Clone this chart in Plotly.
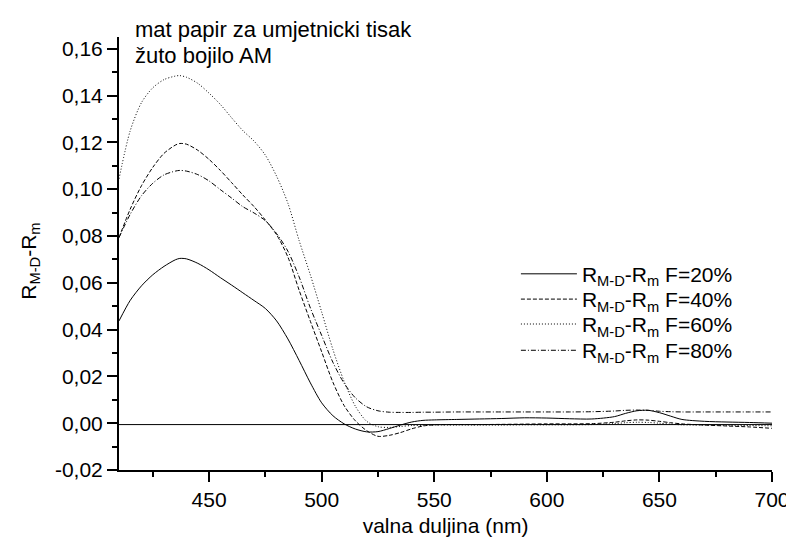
import plotly.graph_objects as go

# ---------------- data ----------------
wl = [410, 415, 420, 425, 430, 435, 437, 440, 445, 450, 455, 460, 465, 470, 475,
      480, 485, 490, 495, 500, 505, 510, 515, 520, 525, 530, 535, 540, 545, 550,
      560, 570, 580, 590, 600, 610, 620, 630, 635, 640, 645, 650, 655, 660, 670,
      680, 690, 700]

f20 = [0.0437, 0.0525, 0.0587, 0.0634, 0.0670, 0.0698, 0.0704, 0.0702, 0.0683, 0.0655,
       0.0622, 0.0590, 0.0557, 0.0524, 0.0490, 0.0437, 0.0360, 0.0268, 0.0172, 0.0087,
       0.0032, -0.0003, -0.0025, -0.0037, -0.0036, -0.0023, -0.0008, 0.0005, 0.0012, 0.0014,
       0.0016, 0.0018, 0.0020, 0.0023, 0.0022, 0.0019, 0.0018, 0.0028, 0.0042, 0.0053,
       0.0055, 0.0045, 0.0030, 0.0016, 0.0008, 0.0005, 0.0003, 0.0000]

f40 = [0.0793, 0.0915, 0.1015, 0.1093, 0.1153, 0.1188, 0.1195, 0.1192, 0.1166, 0.1127,
       0.1080, 0.1028, 0.0975, 0.0925, 0.0868, 0.0805, 0.0710, 0.0568, 0.0435, 0.0305,
       0.0175, 0.0075, 0.0010, -0.0032, -0.0056, -0.0052, -0.0040, -0.0024, -0.0012, -0.0007,
       -0.0006, -0.0006, -0.0005, -0.0004, -0.0003, -0.0003, -0.0002, 0.0004, 0.0010, 0.0014,
       0.0013, 0.0008, 0.0002, -0.0003, -0.0008, -0.0012, -0.0016, -0.0022]

f60 = [0.1044, 0.1250, 0.1370, 0.1433, 0.1468, 0.1483, 0.1485, 0.1478, 0.1452, 0.1410,
       0.1362, 0.1305, 0.1250, 0.1205, 0.1145, 0.1055, 0.0940, 0.0780, 0.0633, 0.0475,
       0.0315, 0.0178, 0.0072, 0.0008, -0.0015, -0.0018, -0.0014, -0.0010, -0.0009, -0.0008,
       -0.0008, -0.0008, -0.0008, -0.0007, -0.0007, -0.0007, -0.0006, -0.0002, 0.0002, 0.0004,
       0.0003, 0.0000, -0.0004, -0.0007, -0.0008, -0.0009, -0.0010, -0.0011]

f80 = [0.0793, 0.0893, 0.0972, 0.1025, 0.1061, 0.1077, 0.1080, 0.1077, 0.1062, 0.1035,
       0.0998, 0.0962, 0.0925, 0.0898, 0.0865, 0.0810, 0.0735, 0.0625, 0.0492, 0.0375,
       0.0260, 0.0170, 0.0108, 0.0070, 0.0053, 0.0047, 0.0046, 0.0046, 0.0047, 0.0047,
       0.0048, 0.0048, 0.0048, 0.0048, 0.0048, 0.0048, 0.0049, 0.0052, 0.0055, 0.0056,
       0.0055, 0.0051, 0.0049, 0.0048, 0.0048, 0.0048, 0.0048, 0.0048]

baseline_wl = [410, 700]
baseline_val = [-0.0006, -0.0006]

series_names = ["R<sub>M-D</sub>-R<sub>m</sub> F=20%",
                "R<sub>M-D</sub>-R<sub>m</sub> F=40%",
                "R<sub>M-D</sub>-R<sub>m</sub> F=60%",
                "R<sub>M-D</sub>-R<sub>m</sub> F=80%"]
series_vals = [f20, f40, f60, f80]
series_dash = ["solid", "4px,2px", "1px,2px", "5px,2px,1px,2px"]

x_tickvals = [450, 500, 550, 600, 650, 700]
x_ticktext = ["450", "500", "550", "600", "650", "700"]
x_minor = [425, 475, 525, 575, 625, 675]
y_tickvals = [-0.02, 0.0, 0.02, 0.04, 0.06, 0.08, 0.10, 0.12, 0.14, 0.16]
y_ticktext = ["-0,02", "0,00", "0,02", "0,04", "0,06", "0,08", "0,10", "0,12", "0,14", "0,16"]
y_minor = [-0.01, 0.01, 0.03, 0.05, 0.07, 0.09, 0.11, 0.13, 0.15]

title_lines = ["mat papir za umjetnicki tisak", "žuto bojilo AM"]
x_title = "valna duljina (nm)"
y_title = "R<sub>M-D</sub>-R<sub>m</sub>"

FONT = "Liberation Sans, Arial, sans-serif"
L, R, T, B = 111, 20, 29, 69
W, H = 794, 538
PW, PH = W - L - R, H - T - B


def px_x(x):
    return (x - L) / PW


def px_y(y):
    return (H - B - y) / PH


fig = go.Figure()
fig.add_trace(go.Scatter(x=baseline_wl, y=baseline_val, mode="lines",
                         line=dict(color="black", width=1), showlegend=False,
                         hoverinfo="skip"))
legend_ids = ["legend", "legend2", "legend3", "legend4"]
for name, vals, dash, lid in zip(series_names, series_vals, series_dash, legend_ids):
    fig.add_trace(go.Scatter(x=wl, y=vals, mode="lines", name=name, legend=lid,
                             line=dict(color="black", width=1, dash=dash,
                                       shape="spline", smoothing=0.8)))

axis_common = dict(showline=True, linecolor="black", linewidth=2, ticks="outside",
                   ticklen=10, tickwidth=2, tickcolor="black", showgrid=False,
                   zeroline=False, tickfont=dict(family=FONT, size=21, color="black"))

legend_rows = [270, 295.7, 321, 347.7]
legend_layout = {}
for lid, yrow in zip(legend_ids, legend_rows):
    legend_layout[lid] = dict(x=px_x(514), y=px_y(yrow), xanchor="left", yanchor="middle",
                              bgcolor="rgba(0,0,0,0)",
                              font=dict(family=FONT, size=21, color="black"),
                              itemwidth=56)

fig.update_layout(
    width=W, height=H,
    margin=dict(l=L, r=R, t=T, b=B),
    paper_bgcolor="white", plot_bgcolor="white",
    font=dict(family=FONT, size=21, color="black"),
    xaxis=dict(range=[410, 700], tickmode="array", tickvals=x_tickvals, ticktext=x_ticktext,
               minor=dict(tickmode="array", tickvals=x_minor, ticklen=5, tickwidth=2,
                          tickcolor="black", ticks="outside", showgrid=False),
               title=dict(text=x_title, font=dict(family=FONT, size=21, color="black"),
                          standoff=8),
               **axis_common),
    yaxis=dict(range=[-0.02, 0.165], tickmode="array", tickvals=y_tickvals, ticktext=y_ticktext,
               minor=dict(tickmode="array", tickvals=y_minor, ticklen=5, tickwidth=2,
                          tickcolor="black", ticks="outside", showgrid=False),
               **axis_common),
    showlegend=True,
    **legend_layout,
)

fig.add_annotation(text=title_lines[0], xref="paper", yref="paper", x=px_x(125), y=px_y(21),
                   xanchor="left", yanchor="middle", showarrow=False,
                   font=dict(family=FONT, size=22, color="black"))
fig.add_annotation(text=title_lines[1], xref="paper", yref="paper", x=px_x(125), y=px_y(48),
                   xanchor="left", yanchor="middle", showarrow=False,
                   font=dict(family=FONT, size=22, color="black"))
fig.add_annotation(text=y_title, xref="paper", yref="paper", x=px_x(21), y=px_y(257),
                   xanchor="center", yanchor="middle", textangle=-90, showarrow=False,
                   font=dict(family=FONT, size=21, color="black"))

fig.write_html("out.html")
